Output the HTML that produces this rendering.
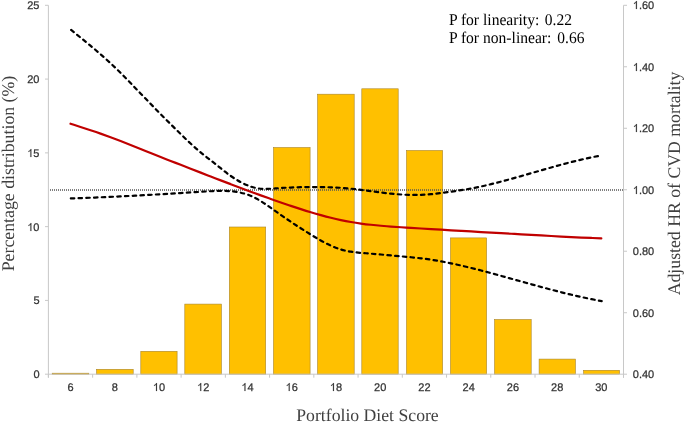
<!DOCTYPE html>
<html><head><meta charset="utf-8"><style>
html,body{margin:0;padding:0;background:#fff;width:685px;height:422px;overflow:hidden}
svg{display:block;will-change:transform}
text{text-rendering:geometricPrecision}
.t{font-family:"Liberation Sans",sans-serif;font-size:11px;fill:#333;stroke:#333;stroke-width:0.25px}
.t1{fill:#333;stroke:#333;stroke-width:30px}
.s{font-family:"Liberation Serif",serif;fill:#404040}
</style></head><body>
<svg width="685" height="422" viewBox="0 0 685 422">
<rect x="52.20" y="373.20" width="36.60" height="1.00" fill="#ffc000" stroke="#a8842a" stroke-width="0.6"/>
<rect x="96.60" y="369.30" width="36.60" height="4.90" fill="#ffc000" stroke="#a8842a" stroke-width="0.6"/>
<rect x="140.80" y="351.30" width="36.30" height="22.90" fill="#ffc000" stroke="#a8842a" stroke-width="0.6"/>
<rect x="184.80" y="304.10" width="36.60" height="70.10" fill="#ffc000" stroke="#a8842a" stroke-width="0.6"/>
<rect x="229.30" y="227.00" width="36.40" height="147.20" fill="#ffc000" stroke="#a8842a" stroke-width="0.6"/>
<rect x="273.50" y="147.50" width="36.60" height="226.70" fill="#ffc000" stroke="#a8842a" stroke-width="0.6"/>
<rect x="317.60" y="94.20" width="36.60" height="280.00" fill="#ffc000" stroke="#a8842a" stroke-width="0.6"/>
<rect x="361.80" y="88.80" width="36.40" height="285.40" fill="#ffc000" stroke="#a8842a" stroke-width="0.6"/>
<rect x="406.50" y="150.50" width="36.10" height="223.70" fill="#ffc000" stroke="#a8842a" stroke-width="0.6"/>
<rect x="450.50" y="237.90" width="36.10" height="136.30" fill="#ffc000" stroke="#a8842a" stroke-width="0.6"/>
<rect x="494.60" y="319.50" width="36.60" height="54.70" fill="#ffc000" stroke="#a8842a" stroke-width="0.6"/>
<rect x="539.10" y="359.10" width="36.30" height="15.10" fill="#ffc000" stroke="#a8842a" stroke-width="0.6"/>
<rect x="583.60" y="370.30" width="35.90" height="3.90" fill="#ffc000" stroke="#a8842a" stroke-width="0.6"/>
<line x1="48.4" y1="5.3" x2="48.4" y2="377.7" stroke="#c8c8c8" stroke-width="1"/>
<line x1="623.5" y1="5.3" x2="623.5" y2="377.7" stroke="#c8c8c8" stroke-width="1"/>
<line x1="48.4" y1="374.2" x2="623.5" y2="374.2" stroke="#c8c8c8" stroke-width="1"/>
<line x1="45.0" y1="374.20" x2="48.4" y2="374.20" stroke="#c8c8c8" stroke-width="1"/>
<text class="t" x="33.38" y="378.00">0</text>
<line x1="45.0" y1="300.42" x2="48.4" y2="300.42" stroke="#c8c8c8" stroke-width="1"/>
<text class="t" x="33.38" y="304.00">5</text>
<line x1="45.0" y1="226.64" x2="48.4" y2="226.64" stroke="#c8c8c8" stroke-width="1"/>
<text class="t" x="27.26" y="231.00">&#8199;0</text><path class="t1" transform="translate(27.265,231.00) scale(0.005371,-0.005371)" d="M763,0 L583,0 L583,1147 C540,1106 483,1065 412,1023 C341,981 278,950 223,930 L223,1104 C324,1151 411,1209 487,1276 C562,1343 616,1408 647,1472 L763,1472 Z"/>
<line x1="45.0" y1="152.86" x2="48.4" y2="152.86" stroke="#c8c8c8" stroke-width="1"/>
<text class="t" x="27.26" y="157.00">&#8199;5</text><path class="t1" transform="translate(27.265,157.00) scale(0.005371,-0.005371)" d="M763,0 L583,0 L583,1147 C540,1106 483,1065 412,1023 C341,981 278,950 223,930 L223,1104 C324,1151 411,1209 487,1276 C562,1343 616,1408 647,1472 L763,1472 Z"/>
<line x1="45.0" y1="79.08" x2="48.4" y2="79.08" stroke="#c8c8c8" stroke-width="1"/>
<text class="t" x="27.26" y="83.00">20</text>
<line x1="45.0" y1="5.30" x2="48.4" y2="5.30" stroke="#c8c8c8" stroke-width="1"/>
<text class="t" x="27.26" y="9.00">25</text>
<line x1="623.5" y1="374.20" x2="627.0" y2="374.20" stroke="#c8c8c8" stroke-width="1"/>
<text class="t" x="632.80" y="378.00">0.40</text>
<line x1="623.5" y1="312.72" x2="627.0" y2="312.72" stroke="#c8c8c8" stroke-width="1"/>
<text class="t" x="632.80" y="317.00">0.60</text>
<line x1="623.5" y1="251.23" x2="627.0" y2="251.23" stroke="#c8c8c8" stroke-width="1"/>
<text class="t" x="632.80" y="255.00">0.80</text>
<line x1="623.5" y1="189.75" x2="627.0" y2="189.75" stroke="#c8c8c8" stroke-width="1"/>
<text class="t" x="632.80" y="194.00">&#8199;.00</text><path class="t1" transform="translate(632.800,194.00) scale(0.005371,-0.005371)" d="M763,0 L583,0 L583,1147 C540,1106 483,1065 412,1023 C341,981 278,950 223,930 L223,1104 C324,1151 411,1209 487,1276 C562,1343 616,1408 647,1472 L763,1472 Z"/>
<line x1="623.5" y1="128.27" x2="627.0" y2="128.27" stroke="#c8c8c8" stroke-width="1"/>
<text class="t" x="632.80" y="132.00">&#8199;.20</text><path class="t1" transform="translate(632.800,132.00) scale(0.005371,-0.005371)" d="M763,0 L583,0 L583,1147 C540,1106 483,1065 412,1023 C341,981 278,950 223,930 L223,1104 C324,1151 411,1209 487,1276 C562,1343 616,1408 647,1472 L763,1472 Z"/>
<line x1="623.5" y1="66.78" x2="627.0" y2="66.78" stroke="#c8c8c8" stroke-width="1"/>
<text class="t" x="632.80" y="71.00">&#8199;.40</text><path class="t1" transform="translate(632.800,71.00) scale(0.005371,-0.005371)" d="M763,0 L583,0 L583,1147 C540,1106 483,1065 412,1023 C341,981 278,950 223,930 L223,1104 C324,1151 411,1209 487,1276 C562,1343 616,1408 647,1472 L763,1472 Z"/>
<line x1="623.5" y1="5.30" x2="627.0" y2="5.30" stroke="#c8c8c8" stroke-width="1"/>
<text class="t" x="632.80" y="9.00">&#8199;.60</text><path class="t1" transform="translate(632.800,9.00) scale(0.005371,-0.005371)" d="M763,0 L583,0 L583,1147 C540,1106 483,1065 412,1023 C341,981 278,950 223,930 L223,1104 C324,1151 411,1209 487,1276 C562,1343 616,1408 647,1472 L763,1472 Z"/>
<line x1="48.40" y1="374.2" x2="48.40" y2="377.7" stroke="#c8c8c8" stroke-width="1"/>
<line x1="92.64" y1="374.2" x2="92.64" y2="377.7" stroke="#c8c8c8" stroke-width="1"/>
<line x1="136.88" y1="374.2" x2="136.88" y2="377.7" stroke="#c8c8c8" stroke-width="1"/>
<line x1="181.12" y1="374.2" x2="181.12" y2="377.7" stroke="#c8c8c8" stroke-width="1"/>
<line x1="225.35" y1="374.2" x2="225.35" y2="377.7" stroke="#c8c8c8" stroke-width="1"/>
<line x1="269.59" y1="374.2" x2="269.59" y2="377.7" stroke="#c8c8c8" stroke-width="1"/>
<line x1="313.83" y1="374.2" x2="313.83" y2="377.7" stroke="#c8c8c8" stroke-width="1"/>
<line x1="358.07" y1="374.2" x2="358.07" y2="377.7" stroke="#c8c8c8" stroke-width="1"/>
<line x1="402.31" y1="374.2" x2="402.31" y2="377.7" stroke="#c8c8c8" stroke-width="1"/>
<line x1="446.55" y1="374.2" x2="446.55" y2="377.7" stroke="#c8c8c8" stroke-width="1"/>
<line x1="490.78" y1="374.2" x2="490.78" y2="377.7" stroke="#c8c8c8" stroke-width="1"/>
<line x1="535.02" y1="374.2" x2="535.02" y2="377.7" stroke="#c8c8c8" stroke-width="1"/>
<line x1="579.26" y1="374.2" x2="579.26" y2="377.7" stroke="#c8c8c8" stroke-width="1"/>
<line x1="623.50" y1="374.2" x2="623.50" y2="377.7" stroke="#c8c8c8" stroke-width="1"/>
<text class="t" x="67.46" y="391.00">6</text>
<text class="t" x="111.70" y="391.00">8</text>
<text class="t" x="152.88" y="391.00">&#8199;0</text><path class="t1" transform="translate(152.878,391.00) scale(0.005371,-0.005371)" d="M763,0 L583,0 L583,1147 C540,1106 483,1065 412,1023 C341,981 278,950 223,930 L223,1104 C324,1151 411,1209 487,1276 C562,1343 616,1408 647,1472 L763,1472 Z"/>
<text class="t" x="197.12" y="391.00">&#8199;2</text><path class="t1" transform="translate(197.117,391.00) scale(0.005371,-0.005371)" d="M763,0 L583,0 L583,1147 C540,1106 483,1065 412,1023 C341,981 278,950 223,930 L223,1104 C324,1151 411,1209 487,1276 C562,1343 616,1408 647,1472 L763,1472 Z"/>
<text class="t" x="241.36" y="391.00">&#8199;4</text><path class="t1" transform="translate(241.355,391.00) scale(0.005371,-0.005371)" d="M763,0 L583,0 L583,1147 C540,1106 483,1065 412,1023 C341,981 278,950 223,930 L223,1104 C324,1151 411,1209 487,1276 C562,1343 616,1408 647,1472 L763,1472 Z"/>
<text class="t" x="285.59" y="391.00">&#8199;6</text><path class="t1" transform="translate(285.594,391.00) scale(0.005371,-0.005371)" d="M763,0 L583,0 L583,1147 C540,1106 483,1065 412,1023 C341,981 278,950 223,930 L223,1104 C324,1151 411,1209 487,1276 C562,1343 616,1408 647,1472 L763,1472 Z"/>
<text class="t" x="329.83" y="391.00">&#8199;8</text><path class="t1" transform="translate(329.832,391.00) scale(0.005371,-0.005371)" d="M763,0 L583,0 L583,1147 C540,1106 483,1065 412,1023 C341,981 278,950 223,930 L223,1104 C324,1151 411,1209 487,1276 C562,1343 616,1408 647,1472 L763,1472 Z"/>
<text class="t" x="374.07" y="391.00">20</text>
<text class="t" x="418.31" y="391.00">22</text>
<text class="t" x="462.55" y="391.00">24</text>
<text class="t" x="506.79" y="391.00">26</text>
<text class="t" x="551.02" y="391.00">28</text>
<text class="t" x="595.26" y="391.00">30</text>
<line x1="50" y1="190" x2="623.5" y2="190" stroke="#555" stroke-width="1.3" stroke-dasharray="1,1"/>
<path d="M70.40,29.35 C73.74,32.07 77.08,34.77 80.42,37.48 C83.76,40.19 87.09,42.91 90.43,45.68 C93.77,48.45 97.11,51.27 100.45,54.17 C103.79,57.07 107.13,60.05 110.47,63.15 C113.81,66.25 117.15,69.48 120.48,72.81 C123.82,76.13 127.16,79.54 130.50,82.99 C133.84,86.44 137.18,89.92 140.52,93.39 C143.86,96.86 147.20,100.32 150.54,103.77 C153.87,107.21 157.21,110.63 160.55,114.01 C163.89,117.40 167.23,120.74 170.57,124.06 C173.91,127.38 177.25,130.68 180.59,133.93 C183.93,137.19 187.26,140.41 190.60,143.50 C193.94,146.60 197.28,149.58 200.62,152.36 C203.96,155.14 207.30,157.71 210.64,160.29 C213.98,162.87 217.32,165.53 220.65,168.20 C223.99,170.86 227.33,173.49 230.67,175.86 C234.01,178.23 237.35,180.35 240.69,182.15 C244.03,183.96 247.37,185.45 250.71,186.57 C254.04,187.69 257.38,188.43 260.72,188.73 C264.06,189.04 267.40,188.94 270.74,188.73 C274.08,188.52 277.42,188.24 280.76,188.04 C284.10,187.84 287.43,187.67 290.77,187.54 C294.11,187.40 297.45,187.29 300.79,187.21 C304.13,187.12 307.47,187.06 310.81,187.04 C314.15,187.01 317.49,187.02 320.82,187.07 C324.16,187.11 327.50,187.19 330.84,187.32 C334.18,187.45 337.52,187.62 340.86,187.85 C344.20,188.07 347.54,188.35 350.88,188.68 C354.21,189.01 357.55,189.40 360.89,189.82 C364.23,190.24 367.57,190.69 370.91,191.14 C374.25,191.59 377.59,192.04 380.93,192.47 C384.27,192.89 387.60,193.29 390.94,193.63 C394.28,193.97 397.62,194.26 400.96,194.48 C404.30,194.70 407.64,194.85 410.98,194.91 C414.32,194.98 417.66,194.96 420.99,194.85 C424.33,194.73 427.67,194.52 431.01,194.20 C434.35,193.87 437.69,193.45 441.03,193.00 C444.37,192.56 447.71,192.10 451.05,191.64 C454.38,191.18 457.72,190.71 461.06,190.19 C464.40,189.68 467.74,189.11 471.08,188.49 C474.42,187.86 477.76,187.18 481.10,186.46 C484.44,185.73 487.77,184.96 491.11,184.15 C494.45,183.34 497.79,182.49 501.13,181.62 C504.47,180.74 507.81,179.84 511.15,178.91 C514.49,177.99 517.83,177.05 521.16,176.09 C524.50,175.14 527.84,174.18 531.18,173.21 C534.52,172.25 537.86,171.28 541.20,170.33 C544.54,169.37 547.88,168.42 551.22,167.48 C554.55,166.54 557.89,165.62 561.23,164.72 C564.57,163.82 567.91,162.94 571.25,162.09 C574.59,161.24 577.93,160.42 581.27,159.64 C584.61,158.86 587.94,158.11 591.28,157.41 C594.62,156.71 597.96,156.05 601.30,155.44" fill="none" stroke="#000" stroke-width="2.2" stroke-linecap="round" stroke-dasharray="3.5,4.24" stroke-dashoffset="-0.92"/>
<path d="M69.90,198.48 C73.24,198.37 76.59,198.25 79.93,198.13 C83.28,198.01 86.62,197.88 89.97,197.75 C93.31,197.61 96.66,197.47 100.00,197.33 C103.35,197.19 106.69,197.04 110.04,196.89 C113.38,196.73 116.73,196.57 120.07,196.41 C123.41,196.25 126.76,196.08 130.10,195.91 C133.45,195.74 136.79,195.57 140.14,195.39 C143.48,195.21 146.83,195.03 150.17,194.84 C153.52,194.65 156.86,194.47 160.21,194.27 C163.55,194.08 166.89,193.88 170.24,193.69 C173.58,193.49 176.93,193.29 180.27,193.08 C183.62,192.88 186.96,192.67 190.31,192.47 C193.65,192.26 197.00,192.05 200.34,191.84 C203.69,191.63 207.03,191.41 210.38,191.23 C213.72,191.04 217.06,190.89 220.41,190.85 C223.75,190.82 227.10,190.90 230.44,191.17 C233.79,191.45 237.13,191.91 240.48,192.64 C243.82,193.37 247.17,194.37 250.51,195.73 C253.86,197.10 257.20,198.86 260.55,200.93 C263.89,203.00 267.23,205.34 270.58,207.71 C273.92,210.08 277.27,212.46 280.61,214.78 C283.96,217.10 287.30,219.39 290.65,221.63 C293.99,223.87 297.34,226.07 300.68,228.22 C304.03,230.37 307.37,232.47 310.72,234.51 C314.06,236.56 317.40,238.56 320.75,240.44 C324.09,242.33 327.44,244.09 330.78,245.62 C334.13,247.16 337.47,248.48 340.82,249.48 C344.16,250.48 347.51,251.19 350.85,251.71 C354.20,252.23 357.54,252.58 360.88,252.86 C364.23,253.14 367.57,253.37 370.92,253.65 C374.26,253.92 377.61,254.22 380.95,254.52 C384.30,254.83 387.64,255.15 390.99,255.45 C394.33,255.76 397.68,256.06 401.02,256.36 C404.37,256.65 407.71,256.95 411.05,257.27 C414.40,257.59 417.74,257.94 421.09,258.33 C424.43,258.73 427.78,259.18 431.12,259.69 C434.47,260.20 437.81,260.77 441.16,261.38 C444.50,261.99 447.85,262.66 451.19,263.36 C454.54,264.06 457.88,264.80 461.22,265.58 C464.57,266.35 467.91,267.16 471.26,267.99 C474.60,268.82 477.95,269.68 481.29,270.55 C484.64,271.42 487.98,272.31 491.33,273.21 C494.67,274.12 498.02,275.03 501.36,275.95 C504.71,276.87 508.05,277.80 511.39,278.74 C514.74,279.67 518.08,280.60 521.43,281.54 C524.77,282.47 528.12,283.40 531.46,284.32 C534.81,285.25 538.15,286.17 541.50,287.07 C544.84,287.98 548.19,288.87 551.53,289.75 C554.87,290.63 558.22,291.49 561.56,292.33 C564.91,293.17 568.25,293.99 571.60,294.78 C574.94,295.58 578.29,296.34 581.63,297.08 C584.98,297.82 588.32,298.52 591.67,299.19 C595.01,299.87 598.36,300.50 601.70,301.10" fill="none" stroke="#000" stroke-width="2.2" stroke-linecap="round" stroke-dasharray="3.5,4.24" stroke-dashoffset="-0.92"/>
<path d="M70.50,123.75 C73.84,124.82 77.18,125.88 80.52,126.96 C83.85,128.03 87.19,129.11 90.53,130.21 C93.87,131.32 97.21,132.44 100.55,133.61 C103.88,134.77 107.22,135.97 110.56,137.19 C113.90,138.42 117.24,139.68 120.58,140.97 C123.91,142.27 127.25,143.59 130.59,144.94 C133.93,146.28 137.27,147.64 140.61,149.00 C143.94,150.36 147.28,151.72 150.62,153.06 C153.96,154.40 157.30,155.72 160.64,157.03 C163.97,158.34 167.31,159.64 170.65,160.93 C173.99,162.23 177.33,163.52 180.67,164.82 C184.00,166.12 187.34,167.42 190.68,168.72 C194.02,170.02 197.36,171.32 200.70,172.61 C204.03,173.91 207.37,175.21 210.71,176.50 C214.05,177.79 217.39,179.07 220.73,180.36 C224.06,181.64 227.40,182.91 230.74,184.18 C234.08,185.45 237.42,186.71 240.76,187.97 C244.09,189.22 247.43,190.46 250.77,191.70 C254.11,192.93 257.45,194.15 260.79,195.36 C264.13,196.57 267.46,197.77 270.80,198.95 C274.14,200.13 277.48,201.30 280.82,202.46 C284.16,203.61 287.49,204.75 290.83,205.87 C294.17,206.98 297.51,208.08 300.85,209.15 C304.19,210.22 307.52,211.26 310.86,212.26 C314.20,213.27 317.54,214.23 320.88,215.15 C324.22,216.07 327.55,216.95 330.89,217.77 C334.23,218.59 337.57,219.36 340.91,220.07 C344.25,220.77 347.58,221.41 350.92,221.99 C354.26,222.57 357.60,223.08 360.94,223.54 C364.28,224.00 367.61,224.41 370.95,224.78 C374.29,225.14 377.63,225.47 380.97,225.76 C384.31,226.06 387.64,226.32 390.98,226.57 C394.32,226.81 397.66,227.04 401.00,227.25 C404.34,227.47 407.67,227.68 411.01,227.89 C414.35,228.10 417.69,228.31 421.03,228.51 C424.37,228.72 427.71,228.92 431.04,229.12 C434.38,229.32 437.72,229.52 441.06,229.72 C444.40,229.92 447.74,230.11 451.07,230.31 C454.41,230.50 457.75,230.70 461.09,230.89 C464.43,231.08 467.77,231.28 471.10,231.47 C474.44,231.66 477.78,231.85 481.12,232.04 C484.46,232.23 487.80,232.42 491.13,232.61 C494.47,232.80 497.81,232.99 501.15,233.18 C504.49,233.38 507.83,233.57 511.16,233.76 C514.50,233.95 517.84,234.14 521.18,234.33 C524.52,234.52 527.86,234.71 531.19,234.90 C534.53,235.09 537.87,235.28 541.21,235.46 C544.55,235.65 547.89,235.83 551.22,236.01 C554.56,236.19 557.90,236.37 561.24,236.54 C564.58,236.72 567.92,236.88 571.25,237.05 C574.59,237.21 577.93,237.37 581.27,237.53 C584.61,237.68 587.95,237.83 591.28,237.97 C594.62,238.11 597.96,238.25 601.30,238.38" fill="none" stroke="#c00000" stroke-width="2.2" stroke-linecap="round" stroke-linejoin="round"/>
<g transform="translate(0,24.7) scale(1,1.045)"><text class="s" style="font-size:15.6px;fill:#000" x="448.9" y="0">P for linearity:</text><text class="s" style="font-size:15.5px;fill:#000" x="544.8" y="0">0.22</text></g>
<g transform="translate(0,43.4) scale(1,1.045)"><text class="s" style="font-size:15.6px;fill:#000" x="448.9" y="0">P for non-linear:</text><text class="s" style="font-size:15.5px;fill:#000" x="557.3" y="0">0.66</text></g>
<text class="s" style="font-size:17.7px" x="367.5" y="420.8" text-anchor="middle">Portfolio Diet Score</text>
<text class="s" style="font-size:17.8px" transform="translate(14.1,173.5) rotate(-90)" text-anchor="middle">Percentage distribution (%)</text>
<text class="s" style="font-size:17.74px" transform="translate(679.7,183.5) rotate(-90)" text-anchor="middle">Adjusted HR of CVD mortality</text>
</svg></body></html>
